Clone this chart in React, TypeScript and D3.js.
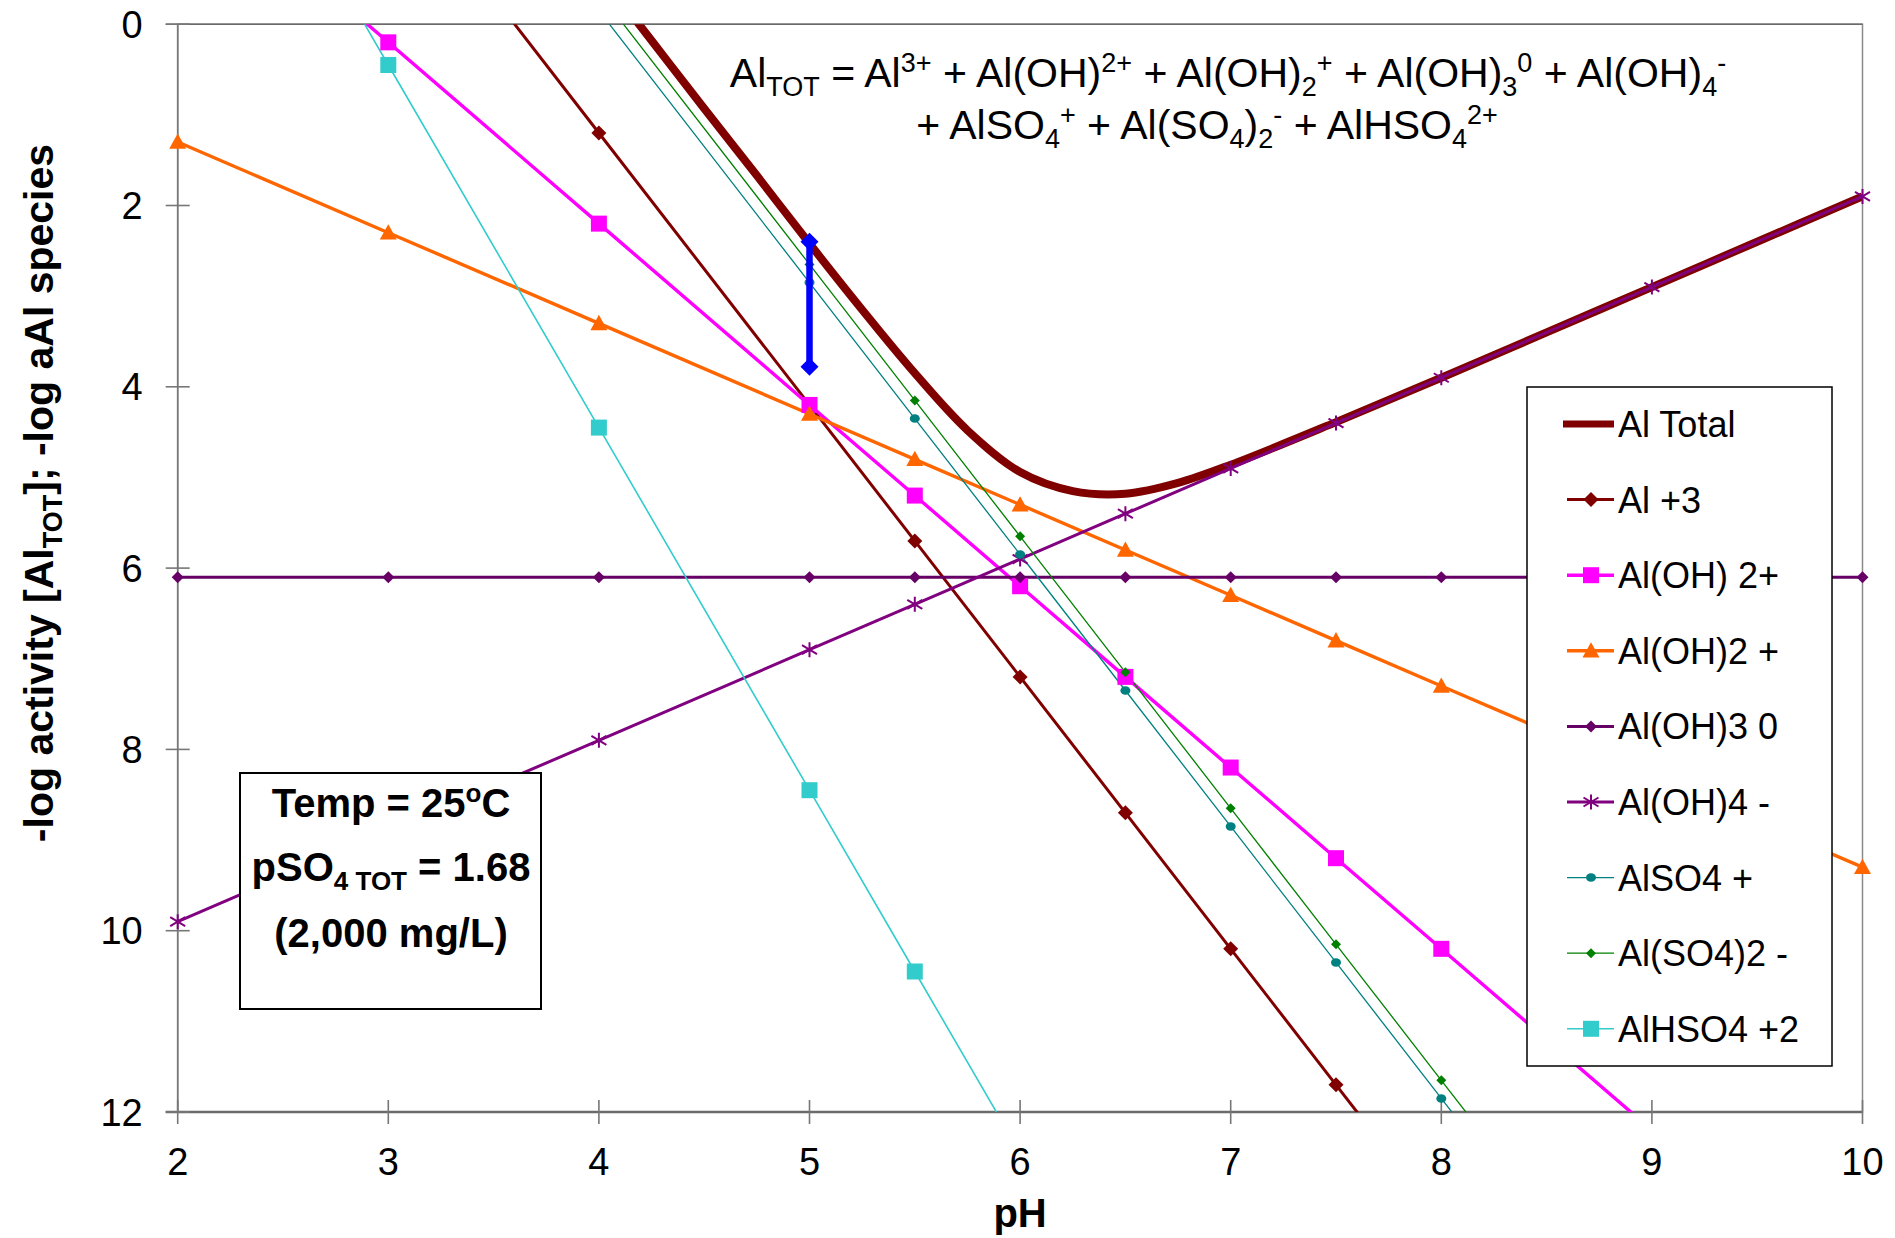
import React from "react";
import * as d3 from "d3";

const pH = [2, 3, 4, 5, 5.5, 6, 6.5, 7, 7.5, 8, 9, 10];
const al3 = [-4.8, -1.8, 1.2, 4.2, 5.7, 7.2, 8.7, 10.2, 11.7, 13.2, 16.2, 19.2];
const alOH = [-1.8, 0.2, 2.2, 4.2, 5.2, 6.2, 7.2, 8.2, 9.2, 10.2, 12.2, 14.2];
const alOH2 = [1.3, 2.3, 3.3, 4.3, 4.8, 5.3, 5.8, 6.3, 6.8, 7.3, 8.3, 9.3];
const alOH3 = [6.1, 6.1, 6.1, 6.1, 6.1, 6.1, 6.1, 6.1, 6.1, 6.1, 6.1, 6.1];
const alOH4 = [9.9, 8.9, 7.9, 6.9, 6.4, 5.9, 5.4, 4.9, 4.4, 3.9, 2.9, 1.9];
const alSO4 = [-6.15, -3.15, -0.15, 2.85, 4.35, 5.85, 7.35, 8.85, 10.35, 11.85, 14.85, 17.85];
const alSO42 = [-6.35, -3.35, -0.35, 2.65, 4.15, 5.65, 7.15, 8.65, 10.15, 11.65, 14.65, 17.65];
const alHSO4 = [-3.55, 0.45, 4.45, 8.45, 10.45, 12.45, 14.45, 16.45, 18.45, 20.45, 24.45, 28.45];

const totalPH = [4, 4.25, 4.5, 4.75, 5, 5.25, 5.5, 5.75, 6, 6.25, 6.5, 6.75, 7, 7.5, 8, 8.5, 9, 9.5, 10];
const totalVal = [-0.57, 0.18, 0.93, 1.67, 2.42, 3.15, 3.85, 4.48, 4.94, 5.15, 5.18, 5.06, 4.86, 4.39, 3.9, 3.4, 2.9, 2.4, 1.9];

const barPH = [5, 5];
const barVal = [2.4, 3.78];

const xTicks = [2, 3, 4, 5, 6, 7, 8, 9, 10];
const yTicks = [0, 2, 4, 6, 8, 10, 12];

type Series = { name: string; values: number[]; color: string; width: number; marker: string; size: number };
const series: Series[] = [
  { name: "Al +3", values: al3, color: "#800000", width: 3, marker: "diamond", size: 15 },
  { name: "Al(OH) 2+", values: alOH, color: "#FF00FF", width: 3.4, marker: "square", size: 16 },
  { name: "Al(OH)2 +", values: alOH2, color: "#FF6600", width: 3.4, marker: "triangle", size: 17 },
  { name: "Al(OH)3 0", values: alOH3, color: "#660066", width: 3, marker: "diamond", size: 12 },
  { name: "Al(OH)4 -", values: alOH4, color: "#800080", width: 3, marker: "star", size: 15 },
  { name: "AlSO4 +", values: alSO4, color: "#008080", width: 1.3, marker: "circle", size: 10 },
  { name: "Al(SO4)2 -", values: alSO42, color: "#008000", width: 1.3, marker: "diamond", size: 10 },
  { name: "AlHSO4 +2", values: alHSO4, color: "#33CCCC", width: 1.6, marker: "square", size: 16 },
];

const FONT = "'Liberation Sans', Arial, sans-serif";

function Marker({ type, cx, cy, size, color }: { type: string; cx: number; cy: number; size: number; color: string }) {
  const h = size / 2;
  if (type === "diamond")
    return <path d={`M${cx},${cy - h}L${cx + h},${cy}L${cx},${cy + h}L${cx - h},${cy}Z`} fill={color} />;
  if (type === "square") return <rect x={cx - h} y={cy - h} width={size} height={size} fill={color} />;
  if (type === "triangle")
    return <path d={`M${cx},${cy - h}L${cx + h},${cy + h * 0.8}L${cx - h},${cy + h * 0.8}Z`} fill={color} />;
  if (type === "circle") return <ellipse cx={cx} cy={cy} rx={h} ry={h * 0.85} fill={color} />;
  if (type === "star")
    return (
      <path
        d={`M${cx - h},${cy - h * 0.6}L${cx + h},${cy + h * 0.6}M${cx - h},${cy + h * 0.6}L${cx + h},${cy - h * 0.6}M${cx},${cy - h}L${cx},${cy + h}`}
        stroke={color}
        strokeWidth={2}
        fill="none"
      />
    );
  return null;
}

export default function App() {
  const x = d3.scaleLinear().domain([2, 10]).range([177.7, 1862.5]);
  const y = d3.scaleLinear().domain([0, 12]).range([24.2, 1112]);
  const [x0, x1] = x.range();
  const [y0, y1] = y.range();

  const line = d3
    .line<number>()
    .x((_, i) => x(pH[i]))
    .y((d) => y(d));
  const totalLine = d3
    .line<number>()
    .x((_, i) => x(totalPH[i]))
    .y((d) => y(d))
    .curve(d3.curveCatmullRom.alpha(0.5));

  const legX = 1527, legY = 387, legW = 305, legH = 679;
  const legStep = 75.6;
  const legFirst = 424;
  const SUB = 27;

  return (
    <svg width={1895} height={1238} style={{ position: "absolute", left: 0, top: 0, background: "#fff" }} fontFamily={FONT}>
      <defs>
        <clipPath id="plotClip">
          <rect x={x0} y={y0} width={x1 - x0} height={y1 - y0} />
        </clipPath>
      </defs>
      <rect x={0} y={0} width={1895} height={1238} fill="#fff" />
      {/* plot border */}
      <rect x={x0} y={y0} width={x1 - x0} height={y1 - y0} fill="none" stroke="#8a8a8a" strokeWidth={1.5} />
      <line x1={x0} x2={x0} y1={y0} y2={y1} stroke="#777" strokeWidth={1.6} />
      <line x1={x0 - 12} x2={x1} y1={y1} y2={y1} stroke="#6a6a6a" strokeWidth={2.6} />
      <line x1={x0 - 12} x2={x1} y1={y0} y2={y0} stroke="#6a6a6a" strokeWidth={1.6} />
      {yTicks.map((t) => (
        <g key={"y" + t}>
          <line x1={x0 - 12} x2={x0 + 12} y1={y(t)} y2={y(t)} stroke="#777" strokeWidth={1.6} />
          <text x={x0 - 35} y={y(t)} dy="0.36em" textAnchor="end" fontSize={38}>
            {t}
          </text>
        </g>
      ))}
      {xTicks.map((t) => (
        <g key={"x" + t}>
          <line x1={x(t)} x2={x(t)} y1={y1 - 12} y2={y1 + 12} stroke="#777" strokeWidth={1.6} />
          <text x={x(t)} y={y1 + 63} textAnchor="middle" fontSize={38}>
            {t}
          </text>
        </g>
      ))}

      {/* series lines */}
      <g clipPath="url(#plotClip)">
        <path d={totalLine(totalVal) || ""} fill="none" stroke="#800000" strokeWidth={8} />
        {series.map((s) => (
          <path key={s.name} d={line(s.values) || ""} fill="none" stroke={s.color} strokeWidth={s.width} />
        ))}
      </g>
      {series.map((s) =>
        s.values.map((v, i) =>
          v >= 0 && v <= 12 ? (
            <Marker key={s.name + i} type={s.marker} cx={x(pH[i])} cy={y(v)} size={s.size} color={s.color} />
          ) : null
        )
      )}

      {/* blue bar */}
      <line x1={x(barPH[0])} x2={x(barPH[1])} y1={y(barVal[0])} y2={y(barVal[1])} stroke="#0000FF" strokeWidth={6.5} />
      {barVal.map((v, i) => (
        <Marker key={"b" + i} type="diamond" cx={x(barPH[i])} cy={y(v)} size={18} color="#0000FF" />
      ))}

      {/* equation */}
      <text x={1228} y={87} textAnchor="middle" fontSize={41}>
        <tspan>Al</tspan>
        <tspan fontSize={SUB} dy={9}>TOT</tspan>
        <tspan dy={-9}> = Al</tspan>
        <tspan fontSize={SUB} dy={-15}>3+</tspan>
        <tspan dy={15}> + Al(OH)</tspan>
        <tspan fontSize={SUB} dy={-15}>2+</tspan>
        <tspan dy={15}> + Al(OH)</tspan>
        <tspan fontSize={SUB} dy={9}>2</tspan>
        <tspan fontSize={SUB} dy={-24}>+</tspan>
        <tspan dy={15}> + Al(OH)</tspan>
        <tspan fontSize={SUB} dy={9}>3</tspan>
        <tspan fontSize={SUB} dy={-24}>0</tspan>
        <tspan dy={15}> + Al(OH)</tspan>
        <tspan fontSize={SUB} dy={9}>4</tspan>
        <tspan fontSize={SUB} dy={-24}>-</tspan>
      </text>
      <text x={1207} y={139} textAnchor="middle" fontSize={41}>
        <tspan>+ AlSO</tspan>
        <tspan fontSize={SUB} dy={9}>4</tspan>
        <tspan fontSize={SUB} dy={-24}>+</tspan>
        <tspan dy={15}> + Al(SO</tspan>
        <tspan fontSize={SUB} dy={9}>4</tspan>
        <tspan dy={-9}>)</tspan>
        <tspan fontSize={SUB} dy={9}>2</tspan>
        <tspan fontSize={SUB} dy={-24}>-</tspan>
        <tspan dy={15}> + AlHSO</tspan>
        <tspan fontSize={SUB} dy={9}>4</tspan>
        <tspan fontSize={SUB} dy={-24}>2+</tspan>
      </text>

      {/* info box */}
      <rect x={240} y={773} width={301} height={236} fill="#fff" stroke="#000" strokeWidth={2} />
      <text x={391} y={817} textAnchor="middle" fontSize={40} fontWeight="bold">
        <tspan>Temp = 25</tspan>
        <tspan fontSize={26} dy={-15}>o</tspan>
        <tspan dy={15}>C</tspan>
      </text>
      <text x={391} y={881} textAnchor="middle" fontSize={40} fontWeight="bold">
        <tspan>pSO</tspan>
        <tspan fontSize={26} dy={9}>4 TOT</tspan>
        <tspan dy={-9}> = 1.68</tspan>
      </text>
      <text x={391} y={947} textAnchor="middle" fontSize={40} fontWeight="bold">
        (2,000 mg/L)
      </text>

      {/* axis titles */}
      <text x={(x0 + x1) / 2} y={1227} textAnchor="middle" fontSize={40} fontWeight="bold">
        pH
      </text>
      <text transform={`translate(53,${493}) rotate(-90)`} textAnchor="middle" fontSize={41} fontWeight="bold">
        <tspan>-log activity [Al</tspan>
        <tspan fontSize={27} dy={9}>TOT</tspan>
        <tspan dy={-9}>]; -log aAl species</tspan>
      </text>

      {/* legend */}
      <rect x={legX} y={legY} width={legW} height={legH} fill="#fff" stroke="#000" strokeWidth={1.5} />
      <g>
        <line x1={1563} x2={1614} y1={legFirst} y2={legFirst} stroke="#800000" strokeWidth={7} />
        <text x={1618} y={legFirst} dy="0.36em" fontSize={36}>
          Al Total
        </text>
      </g>
      {series.map((s, i) => {
        const cy = legFirst + legStep * (i + 1);
        return (
          <g key={"leg" + s.name}>
            <line x1={1567} x2={1614} y1={cy} y2={cy} stroke={s.color} strokeWidth={s.width} />
            <Marker type={s.marker} cx={1591} cy={cy} size={s.size} color={s.color} />
            <text x={1618} y={cy} dy="0.36em" fontSize={36}>
              {s.name}
            </text>
          </g>
        );
      })}
    </svg>
  );
}
